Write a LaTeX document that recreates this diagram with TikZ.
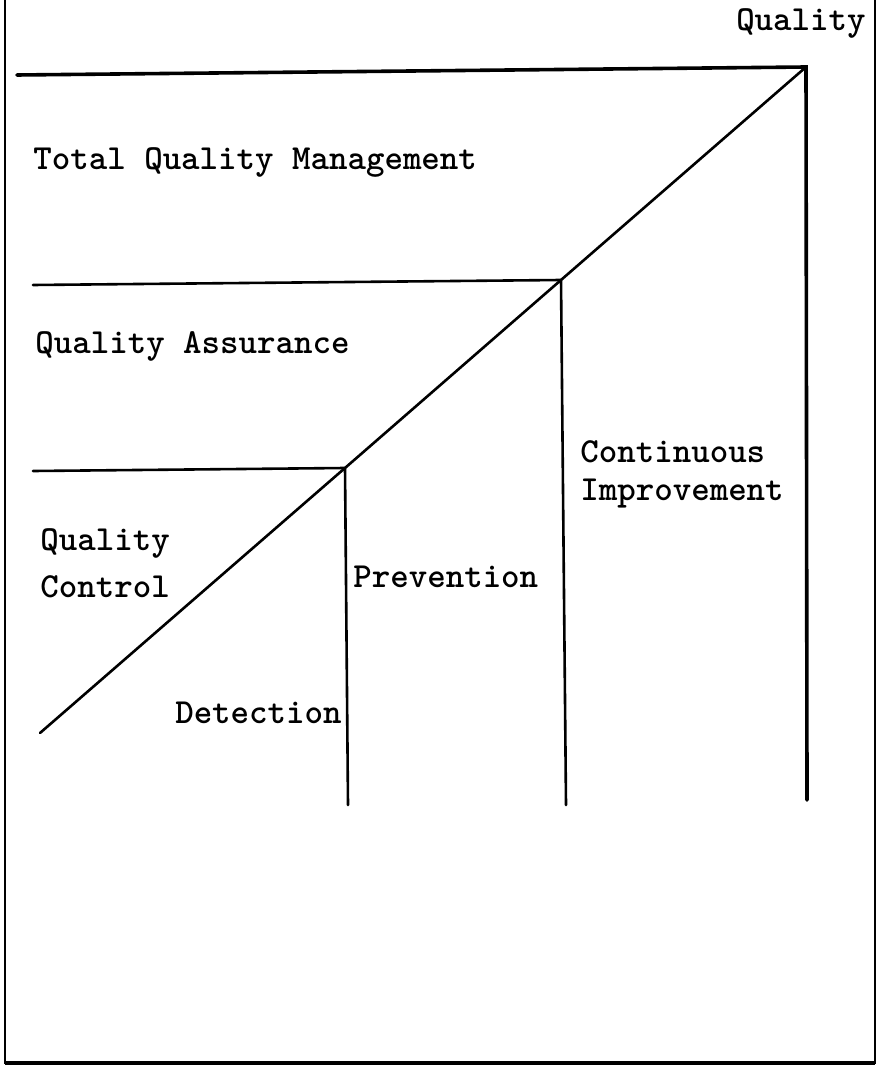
\documentclass[tikz,border=0pt]{standalone}
\usepackage{fontspec}
\usetikzlibrary{calc}
\tikzset{stair/.style={line width=1.3pt, line cap=round},
  frame/.style={line width=1pt},
  lbl/.style={inner sep=0pt, font=\ttfamily\bfseries\fontsize{17.6}{21}\selectfont}}

\begin{document}
\begin{tikzpicture}[x=0.5pt, y=-0.5pt]
  \useasboundingbox (0,0) rectangle (880,1069);
  % frame round the page
  \draw[frame] (5,0) -- (5,1064);
  \draw[frame] (875,0) -- (875,1064);
  \draw[line width=2pt] (5,1063) -- (875,1063);
  % corners where the steps meet the diagonal
  \coordinate (lo) at (40,733);
  \coordinate (c1) at (345,468);
  \coordinate (c2) at (561,280);
  \coordinate (c3) at (806,67);
  % diagonal
  \draw[stair] (lo) -- (c1) -- (c2) -- (c3);
  % steps
  \draw[stair] (33,471) -- (c1) -- (348,805);
  \draw[stair] (33,285) -- (c2) -- (566,805);
  \draw[stair, line width=1.8pt] (17,75) -- (c3) -- (807,800);
  % labels
  \node[lbl, anchor=base east] (q) at (866,31) {Quality};
  \node[lbl, anchor=base west] (tqm) at (33,170) {Total Quality Management};
  \node[lbl, anchor=base west] (qa) at (35,353) {Quality Assurance};
  \node[lbl, anchor=base west] (qc1) at (40,550) {Quality};
  \node[lbl, anchor=base west] (qc2) at (40,597) {Control};
  \node[lbl, anchor=base east] (det) at (342,723) {Detection};
  \node[lbl, anchor=base west] (prev) at (353,587) {Prevention};
  \node[lbl, anchor=base west] (ci1) at (580,462) {Continuous};
  \node[lbl, anchor=base west] (ci2) at (580,500) {Improvement};
\end{tikzpicture}
\end{document}
